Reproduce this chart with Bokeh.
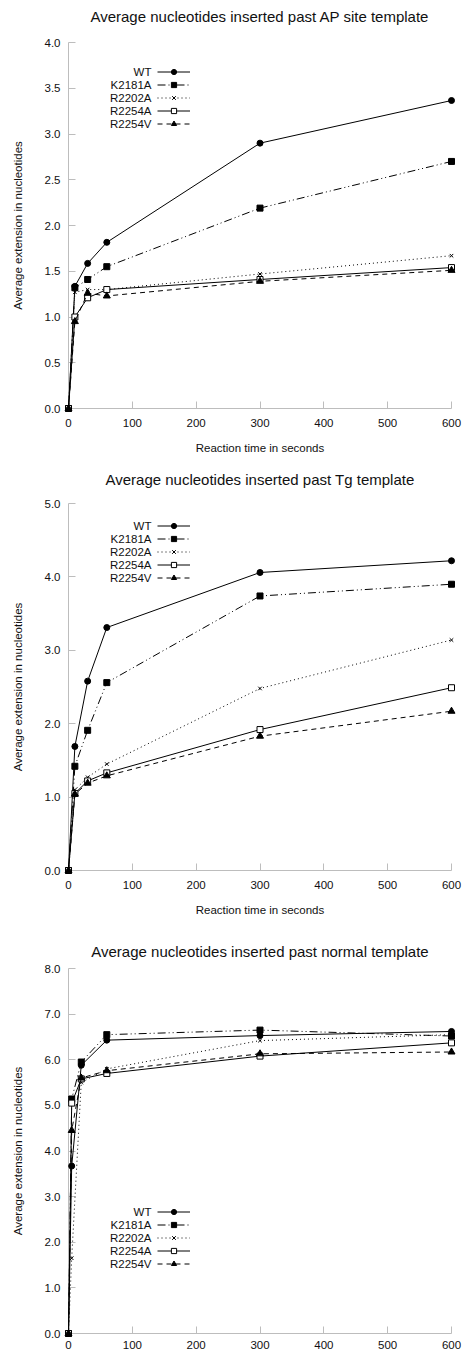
from bokeh.plotting import figure
from bokeh.layouts import column
from bokeh.models import Legend, LegendItem, FixedTicker, NumeralTickFormatter, Range1d, Label
from bokeh.embed import file_html
from bokeh.resources import INLINE

# ---------------- data ----------------
series_names = ["WT", "K2181A", "R2202A", "R2254A", "R2254V"]

times_ap = [0, 10, 30, 60, 300, 600]
ap_wt = [0, 1.335, 1.586, 1.816, 2.90, 3.366]
ap_k2181a = [0, 1.32, 1.41, 1.55, 2.19, 2.70]
ap_r2202a = [0, 1.27, 1.30, 1.30, 1.47, 1.67]
ap_r2254a = [0, 1.00, 1.21, 1.30, 1.41, 1.54]
ap_r2254v = [0, 0.95, 1.26, 1.23, 1.39, 1.51]

times_tg = [0, 10, 30, 60, 300, 600]
tg_wt = [0, 1.69, 2.58, 3.31, 4.06, 4.22]
tg_k2181a = [0, 1.42, 1.91, 2.56, 3.74, 3.90]
tg_r2202a = [0, 1.10, 1.27, 1.45, 2.48, 3.14]
tg_r2254a = [0, 1.05, 1.22, 1.33, 1.92, 2.49]
tg_r2254v = [0, 1.04, 1.19, 1.29, 1.83, 2.17]

times_nm = [0, 5, 20, 60, 300, 600]
nm_wt = [0, 3.67, 5.88, 6.43, 6.53, 6.62]
nm_k2181a = [0, 5.14, 5.95, 6.55, 6.65, 6.52]
nm_r2202a = [0, 1.65, 5.50, 5.80, 6.42, 6.55]
nm_r2254a = [0, 5.05, 5.58, 5.70, 6.08, 6.37]
nm_r2254v = [0, 4.45, 5.60, 5.76, 6.13, 6.17]

x_ticks = [0, 100, 200, 300, 400, 500, 600]

titles = ["Average nucleotides inserted past AP site template",
          "Average nucleotides inserted past Tg template",
          "Average nucleotides inserted past normal template"]
x_label = "Reaction time in seconds"
y_label = "Average extension in nucleotides"

# ---------------- styles ----------------
FONT = "Liberation Sans"
AXIS_GRAY = "#bdbdbd"
TEXT = "#111111"
FRAME_W = 383
styles = {
    "WT": dict(dash="solid", marker="circle", size=6, fill="black"),
    "K2181A": dict(dash="8 3 1 3 1 3", marker="square", size=6, fill="black"),
    "R2202A": dict(dash="1 3", marker="x", size=5, fill="black"),
    "R2254A": dict(dash="solid", marker="square", size=6, fill="white"),
    "R2254V": dict(dash="5 4", marker="triangle", size=7, fill="black"),
}


def make_panel(title, times, data, ymax, ystep, top, frame_h, bottom,
               title_pad, title_fallback, legend_top, show_xlabel,
               xlabel_standoff):
    p = figure(frame_width=FRAME_W, frame_height=frame_h,
               min_border_left=68, min_border_right=11, min_border_top=top,
               min_border_bottom=bottom,
               x_range=Range1d(0, 600), y_range=Range1d(0, ymax),
               output_backend="svg", toolbar_location=None)
    p.title.text = title
    p.title.align = "center"
    p.title.text_font = FONT
    p.title.text_font_size = "15px"
    p.title.text_font_style = "normal"
    p.title.text_color = TEXT
    try:
        p.title.padding = dict(left=0, right=0, top=0, bottom=title_pad)
        p.title.standoff = 0
    except Exception:
        p.title.standoff = title_fallback

    p.outline_line_color = None
    p.xgrid.visible = False
    p.ygrid.visible = False
    p.background_fill_color = "white"
    p.border_fill_color = "white"

    for ax in (p.xaxis[0], p.yaxis[0]):
        ax.axis_line_color = AXIS_GRAY
        ax.major_tick_line_color = AXIS_GRAY
        ax.minor_tick_line_color = None
        ax.major_tick_in = 7
        ax.major_tick_out = 0
        ax.major_label_text_font = FONT
        ax.major_label_text_font_size = "11.5px"
        ax.major_label_text_color = TEXT
        ax.axis_label_text_font = FONT
        ax.axis_label_text_font_size = "11.5px"
        ax.axis_label_text_font_style = "normal"
        ax.axis_label_text_color = TEXT

    p.xaxis.ticker = FixedTicker(ticks=x_ticks)
    yt = []
    v = 0.0
    while v <= ymax + 1e-9:
        yt.append(round(v, 2))
        v += ystep
    p.yaxis.ticker = FixedTicker(ticks=yt)
    p.yaxis.formatter = NumeralTickFormatter(format="0.0")
    p.yaxis.major_label_standoff = 8
    p.yaxis.axis_label = y_label
    p.yaxis.axis_label_standoff = 18
    p.xaxis.major_label_standoff = xlabel_standoff
    if show_xlabel:
        p.xaxis.axis_label = x_label
        p.xaxis.axis_label_standoff = 12

    items = []
    for name, ys in zip(series_names, data):
        st = styles[name]
        lr = p.line(times, ys, line_color="black", line_width=1,
                    line_dash=st["dash"], level="annotation")
        sr = p.scatter(times, ys, marker=st["marker"], size=st["size"],
                       line_color="black", fill_color=st["fill"], line_width=1,
                       level="annotation")
        items.append(LegendItem(label=" ", renderers=[lr, sr]))

    n = len(items)
    row_h = 13
    legend_bottom = frame_h - legend_top - n * row_h
    legend = Legend(items=items, location=(89, legend_bottom),
                    orientation="vertical", glyph_width=33, glyph_height=row_h,
                    label_height=row_h, label_width=0, label_standoff=0,
                    spacing=0, padding=0, margin=0,
                    border_line_color=None, background_fill_alpha=0,
                    label_text_font=FONT, label_text_font_size="1px")
    p.add_layout(legend)
    for i, name in enumerate(series_names):
        yc = frame_h - (legend_top + row_h / 2 + i * row_h)
        p.add_layout(Label(x=83, y=yc, x_units="screen", y_units="screen",
                           text=name, text_align="right",
                           text_baseline="middle", text_font=FONT,
                           text_font_size="11.5px", text_color=TEXT))
    return p


p1 = make_panel(titles[0], times_ap,
                [ap_wt, ap_k2181a, ap_r2202a, ap_r2254a, ap_r2254v],
                4.0, 0.5, 42, 366, 54, 18, 22, 22.5, True, 10)
p2 = make_panel(titles[1], times_tg,
                [tg_wt, tg_k2181a, tg_r2202a, tg_r2254a, tg_r2254v],
                5.0, 1.0, 41, 367, 55, 16, 21, 15.5, True, 10)
p3 = make_panel(titles[2], times_nm,
                [nm_wt, nm_k2181a, nm_r2202a, nm_r2254a, nm_r2254v],
                8.0, 1.0, 43, 365, 22, 9, 17, 236.5, False, 7)

layout = column(p1, p2, p3, spacing=0)
open("out.html", "w").write(file_html(layout, INLINE))
